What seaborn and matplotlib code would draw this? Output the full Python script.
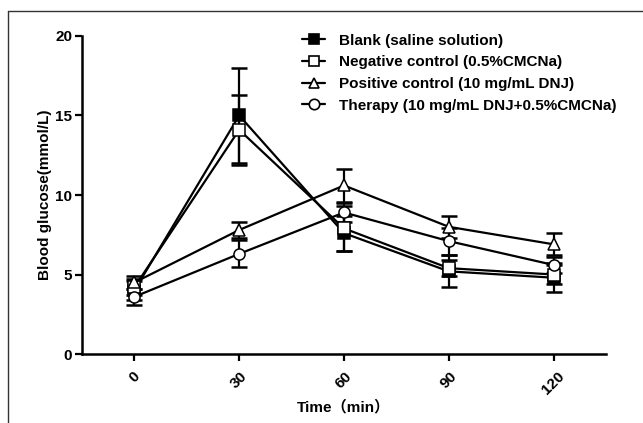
import numpy as np
import pandas as pd
import seaborn as sns
import matplotlib.pyplot as plt
from matplotlib.lines import Line2D

# data
times = [0, 30, 60, 90, 120]
groups = ["Blank (saline solution)", "Negative control (0.5%CMCNa)",
          "Positive control (10 mg/mL DNJ)", "Therapy (10 mg/mL DNJ+0.5%CMCNa)"]
blank = [4.0, 15.0, 7.6, 5.2, 4.8]
blank_err = [0.6, 3.0, 1.1, 1.0, 0.9]
negative = [4.2, 14.1, 7.9, 5.4, 5.0]
negative_err = [0.5, 2.2, 1.4, 0.5, 0.6]
positive = [4.5, 7.8, 10.6, 8.0, 6.9]
positive_err = [0.4, 0.5, 1.05, 0.7, 0.7]
therapy = [3.6, 6.3, 8.9, 7.1, 5.6]
therapy_err = [0.5, 0.85, 0.6, 0.85, 0.5]

values = [blank, negative, positive, therapy]
errors = [blank_err, negative_err, positive_err, therapy_err]
markers = ["s", "s", "^", "o"]
faces = ["black", "white", "white", "white"]

df = pd.DataFrame({
    "time": times * 4,
    "glucose": blank + negative + positive + therapy,
    "group": np.repeat(groups, len(times)),
})

sns.set_style("ticks")
plt.rcParams["font.family"] = ["Liberation Sans", "Noto Sans CJK SC", "DejaVu Sans"]
plt.rcParams["font.weight"] = "bold"
plt.rcParams["text.color"] = "black"
plt.rcParams["axes.labelcolor"] = "black"

fig = plt.figure(figsize=(6.43, 4.23), dpi=100)
ax = fig.add_axes([0.1275, 0.163, 0.815, 0.752])

handles = []
for g, vals, errs, m, fc in zip(groups, values, errors, markers, faces):
    sub = df[df["group"] == g]
    sns.lineplot(data=sub, x="time", y="glucose", ax=ax, color="black",
                 linewidth=1.6, marker=m, markersize=8, markerfacecolor=fc,
                 markeredgecolor="black", markeredgewidth=1.1, zorder=3)
    ax.errorbar(times, vals, yerr=errs, fmt="none", ecolor="black",
                elinewidth=1.6, capsize=5.5, capthick=1.8, zorder=2)
    handles.append(Line2D([], [], color="black", linewidth=1.6, marker=m,
                          markersize=7.5, markerfacecolor=fc,
                          markeredgecolor="black", markeredgewidth=1.2))

ax.set_xlim(-15, 135)
ax.set_ylim(0, 20)
ax.set_xticks(times)
ax.set_yticks([0, 5, 10, 15, 20])
ax.set_xticklabels([str(t) for t in times], rotation=45, ha="center",
                   fontsize=11, fontweight="bold")
ax.set_yticklabels(["0", "5", "10", "15", "20"], fontsize=11, fontweight="bold")
ax.tick_params(axis="both", direction="out", length=5, width=1.6,
               colors="black", labelcolor="black")
ax.tick_params(axis="x", pad=6)
ax.tick_params(axis="y", pad=2)
for s in ["left", "bottom"]:
    ax.spines[s].set_linewidth(1.8)
    ax.spines[s].set_color("black")
sns.despine(ax=ax)

ax.set_xlabel("Time（min）", fontsize=11, fontweight="bold", labelpad=2)
ax.set_ylabel("Blood glucose(mmol/L)", fontsize=11, fontweight="bold", labelpad=2)

leg = ax.legend(handles, groups, loc="upper left", bbox_to_anchor=(0.42, 1.007),
                frameon=False, handlelength=1.5, handletextpad=0.9,
                labelspacing=0.5, borderpad=0, borderaxespad=0,
                prop={"weight": "bold", "size": 11})

# partial outer frame (top and left lines)
fig.add_artist(Line2D([7.5 / 643, 7.5 / 643], [0, 1 - 11 / 423],
                      transform=fig.transFigure, color="#333333", linewidth=1))
fig.add_artist(Line2D([7.5 / 643, 1], [1 - 11 / 423, 1 - 11 / 423],
                      transform=fig.transFigure, color="#333333", linewidth=1))

fig.savefig("out.png", dpi=100)
